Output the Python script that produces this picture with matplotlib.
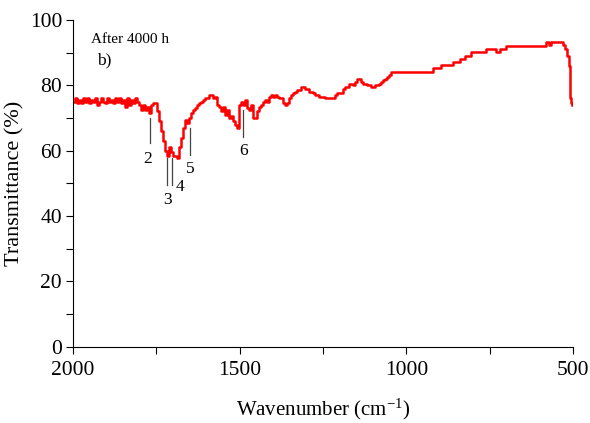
import numpy as np
import matplotlib
matplotlib.use('Agg')
import matplotlib.pyplot as plt
from matplotlib.ticker import MultipleLocator

# DATA
# ----
wavenumber = [
    2000, 1994, 1988, 1982, 1976, 1970, 1964, 1958, 1952, 1946, 1940, 1934,
    1928, 1922, 1916, 1910, 1904, 1898, 1892, 1886, 1880, 1874, 1868, 1862,
    1856, 1850, 1844, 1838, 1832, 1826, 1820, 1814, 1808, 1802, 1796, 1790,
    1784, 1778, 1772, 1766, 1760, 1754, 1748, 1742, 1736, 1730, 1724, 1718,
    1712, 1706, 1700, 1694, 1688, 1682, 1676, 1670, 1664, 1658, 1652, 1646,
    1640, 1634, 1628, 1622, 1616, 1610, 1604, 1598, 1592, 1586, 1580, 1574,
    1568, 1562, 1556, 1550, 1544, 1538, 1532, 1526, 1520, 1514, 1508, 1502,
    1496, 1490, 1484, 1478, 1472, 1466, 1460, 1454, 1448, 1442, 1436, 1430,
    1424, 1418, 1412, 1406, 1400, 1394, 1388, 1382, 1376, 1370, 1364, 1358,
    1352, 1346, 1340, 1334, 1328, 1322, 1316, 1310, 1304, 1298, 1292, 1286,
    1280, 1274, 1268, 1262, 1256, 1250, 1244, 1238, 1232, 1226, 1220, 1214,
    1208, 1202, 1196, 1190, 1184, 1178, 1172, 1166, 1160, 1154, 1148, 1142,
    1136, 1130, 1124, 1118, 1112, 1106, 1100, 1094, 1088, 1082, 1076, 1070,
    1064, 1058, 1052, 1046, 1040, 920, 905, 896, 860, 840, 825, 805,
    760, 730, 720, 700, 587, 580, 572, 565, 530, 524, 518, 512,
    510, 508, 505, 503,
]
transmittance = [
    75, 76, 74.5, 75.5, 74.5, 76, 75, 76, 74.5, 75.5, 75, 76,
    74, 75, 76, 75, 74.5, 76, 75, 75.5, 74.5, 76, 75, 76,
    74.5, 75.5, 73.5, 76, 74, 75.5, 74.5, 76, 75, 74, 72.5, 74,
    72.5, 73.5, 71.5, 74, 74.5, 74.5, 72, 69, 66, 63, 60, 58.5,
    61, 59.5, 58.5, 58.5, 57.8, 61, 64, 67, 69.5, 68.5, 70, 71.5,
    72.5, 73, 74, 74.5, 75, 75.5, 76, 76, 77, 77, 76, 76.5,
    74, 73.5, 72, 73.5, 71, 72.5, 70, 70.5, 69, 68, 67, 74,
    75, 74, 75.5, 73, 72.5, 74, 70, 70, 72, 73.5, 74, 75,
    75.5, 75, 76.5, 77, 76.5, 77, 76.5, 76, 76, 74.5, 74, 74.5,
    76, 77, 77.5, 78, 78.5, 78.5, 79.5, 79.5, 79, 79, 78, 78,
    77.5, 77, 77, 76.5, 76.5, 76.5, 76, 76, 76, 76, 76, 77,
    77.5, 77.5, 77.5, 79, 79.5, 79.5, 80.5, 80.5, 80, 81, 82, 82,
    81, 80.5, 80.5, 80, 80, 79.5, 79.5, 80, 80, 80.5, 81, 81.5,
    82, 82.5, 83, 84, 84, 85.3, 85.3, 86.2, 87.2, 88, 89, 90.2,
    91.1, 90.3, 91.1, 92.1, 92.1, 93.2, 92.3, 93.2, 92.3, 91, 89, 86,
    80, 76, 74.5, 74,
]

# peak markers: label, wavenumber, line top, line bottom, label x, label y
peak_labels = ['2', '3', '4', '5', '6']
peak_wn = [1769, 1718, 1703, 1649, 1490]
peak_top = [70, 57.8, 57.8, 67, 72.5]
peak_bottom = [62.4, 49.5, 49.5, 58.7, 64.2]
label_wn = [1775, 1718, 1679, 1649, 1490]
label_t = [57.5, 45.0, 48.8, 54.5, 60.0]

# PLOT
# ----
plt.rcParams['font.family'] = ['Liberation Serif', 'DejaVu Serif']
plt.rcParams['mathtext.fontset'] = 'custom'
plt.rcParams['mathtext.rm'] = 'Liberation Serif'

fig = plt.figure(figsize=(5.9, 4.23), dpi=100)
ax = fig.add_axes([0.124, 0.18, 0.847, 0.773])

ax.plot(wavenumber, transmittance, color='red', lw=1.8, drawstyle='steps-post')

for lab, wn, top, bot, lx, ly in zip(peak_labels, peak_wn, peak_top, peak_bottom, label_wn, label_t):
    ax.plot([wn, wn], [top, bot], color='#444444', lw=0.9)
    ax.text(lx, ly, lab, ha='center', va='center', fontsize=12.5)

ax.text(1946, 94, 'After 4000 h', fontsize=11, ha='left', va='center')
ax.text(1928, 87.5, 'b)', fontsize=12.5, ha='left', va='center')

ax.set_xlim(2000, 500)
ax.set_ylim(0, 100)
ax.xaxis.set_major_locator(MultipleLocator(500))
ax.xaxis.set_minor_locator(MultipleLocator(250))
ax.yaxis.set_major_locator(MultipleLocator(20))
ax.yaxis.set_minor_locator(MultipleLocator(10))
ax.tick_params(which='both', direction='out', length=5, width=0.8, labelsize=15.5)
ax.tick_params(axis='x', pad=5)
ax.tick_params(axis='y', pad=3)

for side in ['top', 'right']:
    ax.spines[side].set_visible(False)

ax.set_xlabel('Wavenumber ($\\mathregular{cm^{-1}}$)', fontsize=15, labelpad=12)
ax.set_ylabel('Transmittance (%)', fontsize=16, labelpad=4)

plt.savefig('out.png', dpi=100)
plt.close()
